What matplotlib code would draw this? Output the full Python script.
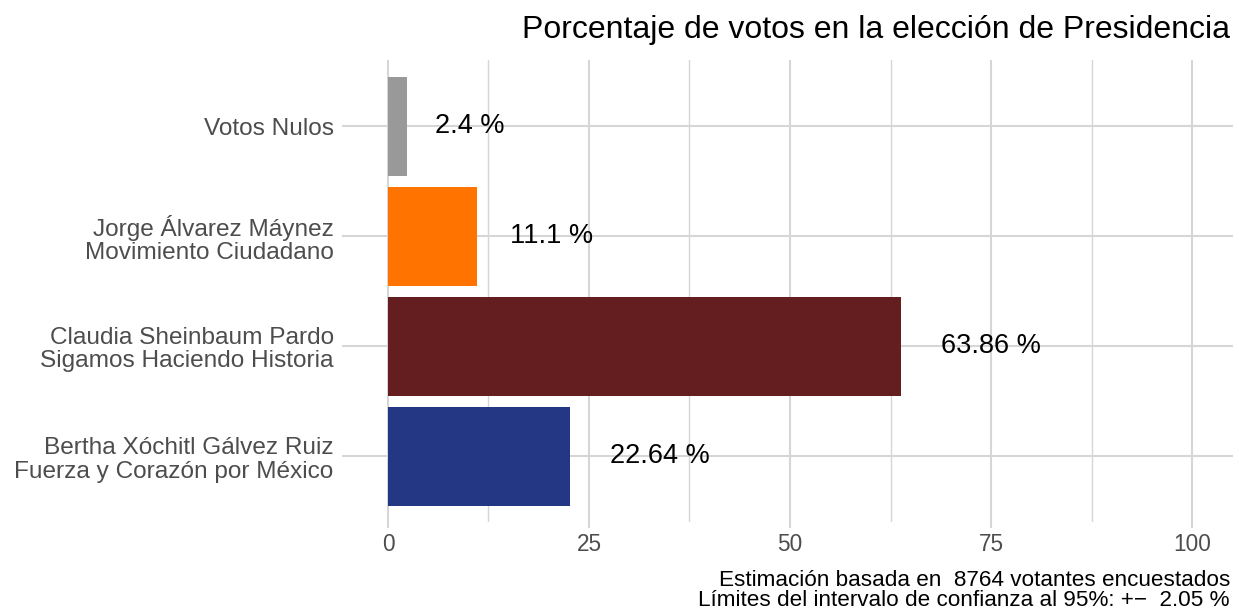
import matplotlib
matplotlib.use("Agg")
from matplotlib import pyplot as plt
from matplotlib.transforms import offset_copy

plt.rcParams['font.family'] = ['Liberation Sans', 'DejaVu Sans']

# datos (de abajo hacia arriba)
candidatos = ["Bertha Xóchitl Gálvez Ruiz\nFuerza y Corazón por México",
              "Claudia Sheinbaum Pardo\nSigamos Haciendo Historia",
              "Jorge Álvarez Máynez\nMovimiento Ciudadano",
              "Votos Nulos"]
porcentajes = [22.64, 63.86, 11.1, 2.4]
colores = ["#233784", "#651E20", "#FF7300", "#999999"]
etiquetas = ["22.64 %", "63.86 %", "11.1 %", "2.4 %"]
ticks_x = [0, 25, 50, 75, 100]
n_votantes = 8764
margen = 2.05

titulo = "Porcentaje de votos en la elección de Presidencia"
pie1 = "Estimación basada en  %d votantes encuestados" % n_votantes
pie2 = "Límites del intervalo de confianza al 95%%: +\u2212  %.2f %%" % margen

gris = "#D6D6D6"

fig = plt.figure(figsize=(12.39, 6.11), dpi=100)
ax = fig.add_axes([0.276, 0.1449, 0.7192, 0.7569])

pos = list(range(len(candidatos)))
ax.barh(pos, porcentajes, height=0.9, color=colores, zorder=2)

ax.set_xlim(-5.72, 105.1)
ax.set_ylim(-0.6, len(candidatos) - 0.4)

ax.set_xticks(ticks_x)
ax.set_xticks([12.5, 37.5, 62.5, 87.5], minor=True)
ax.set_yticks(pos)
ax.set_yticklabels(candidatos, linespacing=1.1)

ax.grid(axis='x', which='major', color=gris, linewidth=1.5, zorder=0)
ax.grid(axis='x', which='minor', color=gris, linewidth=1.0, zorder=0)
ax.grid(axis='y', which='major', color=gris, linewidth=1.5, zorder=0)
ax.set_axisbelow(True)

for s in ax.spines.values():
    s.set_visible(False)

ax.tick_params(axis='x', which='major', length=4.5, width=1.5, color=gris,
               labelsize=16.3, labelcolor="#4D4D4D", pad=3)
ax.tick_params(axis='x', which='minor', length=0)
ax.tick_params(axis='y', length=0, labelsize=17.6, labelcolor="#4D4D4D", pad=6)

# etiquetas de las barras (hjust = -0.4 aprox)
fig.canvas.draw()
r = fig.canvas.get_renderer()
for p, v, e in zip(pos, porcentajes, etiquetas):
    t = ax.text(v, p, e, ha='center', va='center', fontsize=19.5, color='black', zorder=3)
    w = t.get_window_extent(renderer=r).width
    t.set_transform(offset_copy(ax.transData, fig=fig, x=0.9 * w, y=0, units='dots'))

fig.text(1230 / 1239, 1 - 38 / 611, titulo, ha='right', va='baseline', fontsize=23)
fig.text(1230 / 1239, 1 - 586 / 611, pie1, ha='right', va='baseline', fontsize=16.2)
fig.text(1230 / 1239, 1 - 606 / 611, pie2, ha='right', va='baseline', fontsize=16.2)

plt.savefig("out.png", dpi=100)
